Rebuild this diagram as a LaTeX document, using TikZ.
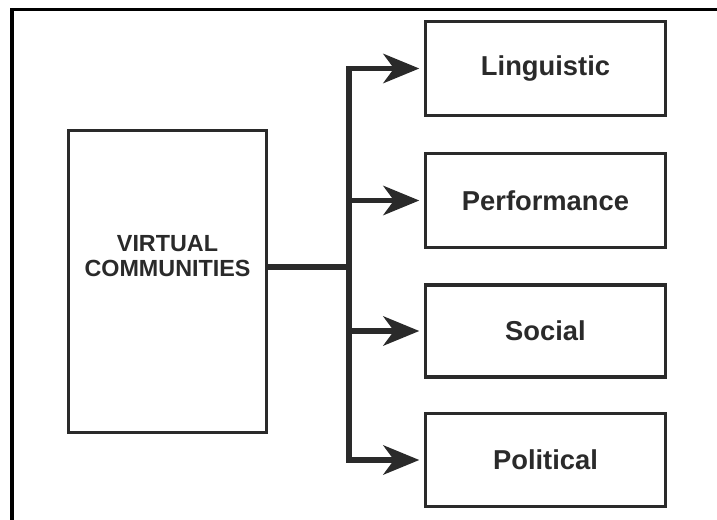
\documentclass[tikz,border=0pt]{standalone}
\usepackage{fontspec}
\setmainfont{Liberation Sans}
\usetikzlibrary{arrows.meta}
\definecolor{ink}{HTML}{2A2A2A}
\tikzset{
  x=0.75pt, y=-0.75pt,
  box/.style={draw=ink, line width=2.3pt, fill=white, inner sep=0pt, text=ink,
              font=\bfseries\fontsize{20.5}{23}\selectfont},
  conn/.style={draw=ink, line width=3.9pt, line join=miter},
  arr/.style={conn, -{Stealth[length=27pt, width=22pt, inset=8pt]}, shorten >=3.5pt},
  frame/.style={draw=black, line width=2.6pt},
}
\begin{document}
\begin{tikzpicture}
  \useasboundingbox (0,0) rectangle (717,520);
  % page frame (left and top edges only)
  \draw[frame] (12,521) -- (12,9.5) -- (718,9.5);

  % source box and its caption
  \node[box, minimum width=149pt, minimum height=227pt] (vc) at (167.5,281.5) {};
  \node[text=ink, align=center, font=\bfseries\fontsize{17.5}{19}\selectfont] (vclabel) at (167.5,256) {VIRTUAL\\COMMUNITIES};

  % target boxes
  \node[box, minimum width=180pt, minimum height=71pt] (ling) at (545.5,68.5) {Linguistic};
  \node[box, minimum width=180pt, minimum height=70pt] (perf) at (545.5,200.5) {Performance};
  \node[box, minimum width=180pt, minimum height=69pt] (soc) at (545.5,331) {Social};
  \node[box, minimum width=180pt, minimum height=70pt] (pol) at (545.5,460) {Political};

  % branching connectors
  \coordinate (junction) at (349,267);
  \draw[conn] (vc.east |- junction) -- (junction);
  \draw[arr] (junction) |- (ling.west);
  \draw[arr] (junction) |- (perf.west);
  \draw[arr] (junction) |- (soc.west);
  \draw[arr] (junction) |- (pol.west);
\end{tikzpicture}
\end{document}
